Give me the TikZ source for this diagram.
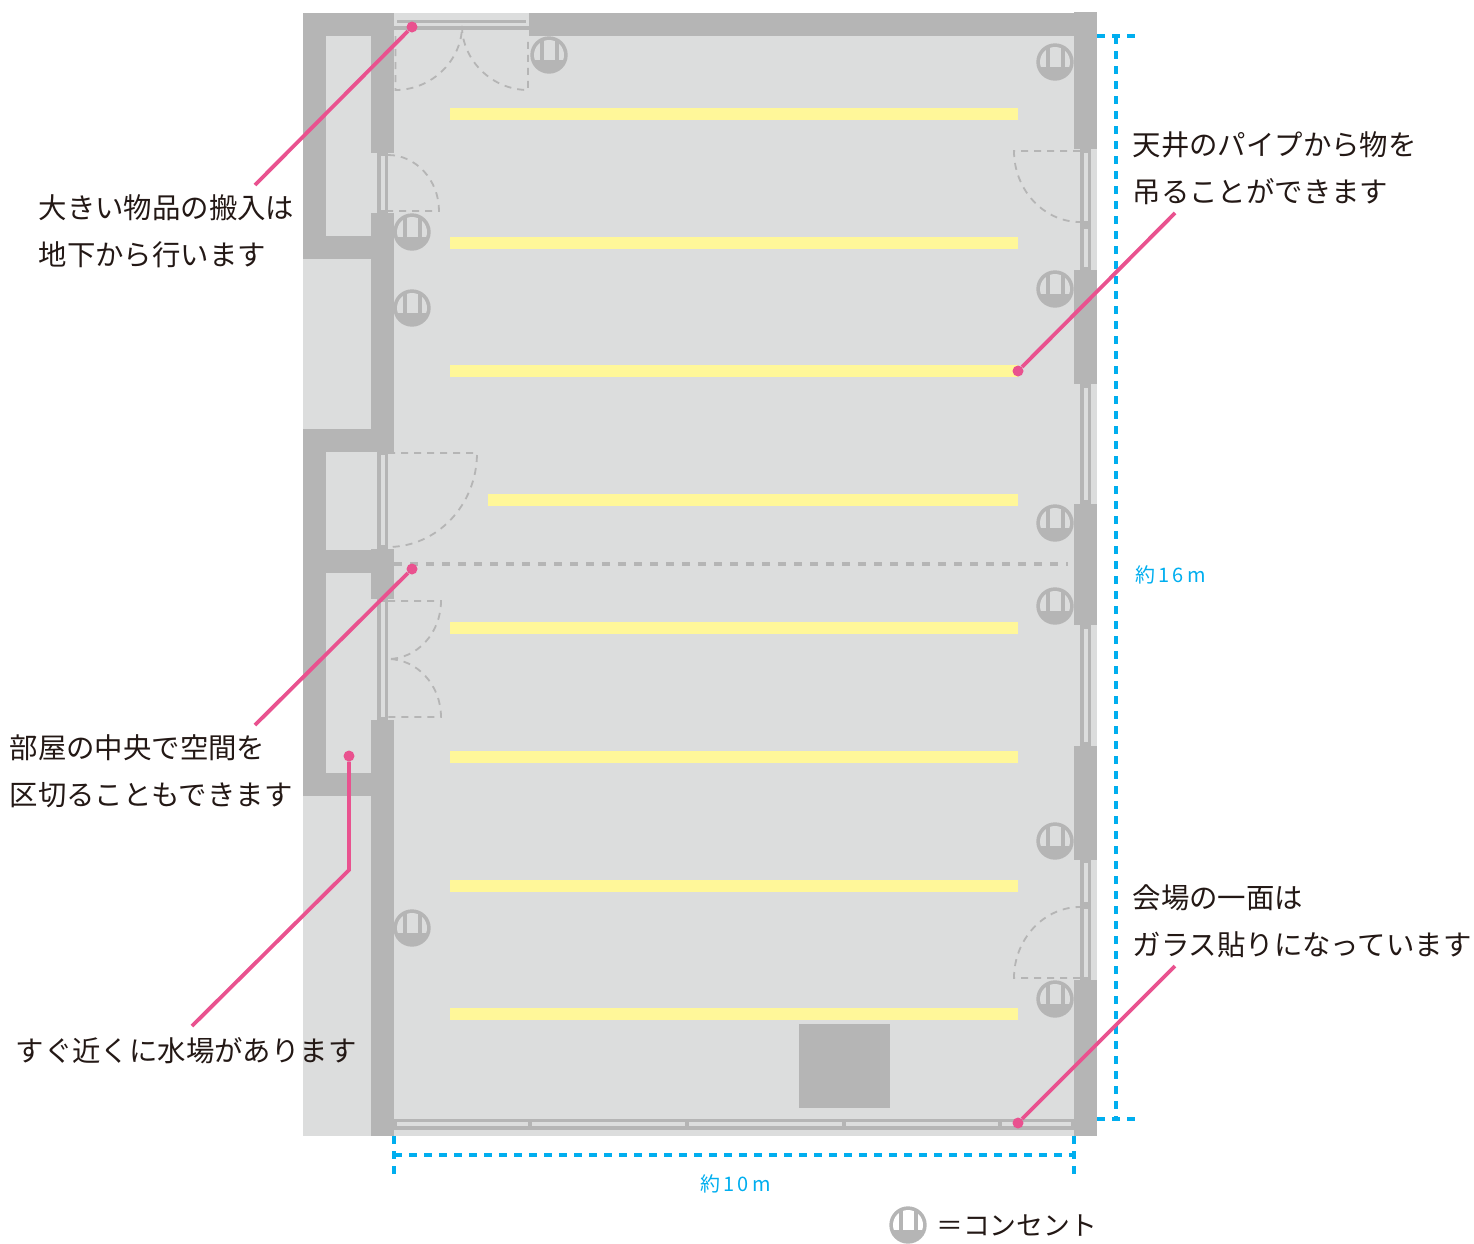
\documentclass[tikz,border=0pt]{standalone}
\usepackage{fontspec}
\newfontfamily\jpfont{Noto Sans CJK JP}
\usepackage{tikz}
\usetikzlibrary{positioning}
\definecolor{floorgray}{HTML}{DCDDDD}
\definecolor{wallgray}{HTML}{B5B5B5}
\definecolor{lightyellow}{HTML}{FFF799}
\definecolor{dimblue}{HTML}{00AEEF}
\definecolor{notepink}{HTML}{E9528F}
\definecolor{textblack}{HTML}{231815}
\tikzset{
  wall/.style={fill=wallgray},
  pane/.style={fill=floorgray},
  swing/.style={draw=wallgray, line width=1.8pt, dash pattern=on 7pt off 6pt},
  dimline/.style={draw=dimblue, line width=3.8pt, dash pattern=on 8pt off 7pt},
  noteline/.style={draw=notepink, line width=3.8pt},
  notedot/.style={circle, fill=notepink, inner sep=0pt, minimum size=11pt},
  note/.style={anchor=west, align=left, inner sep=0pt, text=textblack,
    font=\jpfont\fontsize{28.4}{47}\selectfont},
  dimtext/.style={inner sep=0pt, text=dimblue, font=\jpfont\fontsize{20}{24}\selectfont},
}
\begin{document}
\begin{tikzpicture}[x=1pt, y=-1pt]
    \useasboundingbox (0, 0) rectangle (1474, 1243);
    \fill [pane] (303, 13) rectangle (1097, 1136);

    % windows
    \fill [wall] (397, 19.5) rectangle (526, 22.5);
    \fill [wall] (394, 26) rectangle (529, 30);
    \fill [wall] (394, 1119) rectangle (1074, 1130);
    \foreach \xa/\xb in {397/528, 532/685, 689/842, 846/998, 1002/1071}
        \fill [pane] (\xa, 1122) rectangle (\xb, 1126);
    \foreach \ya/\yb in {153/213, 452/549, 599/720}
        \fill [wall] (377, \ya) rectangle (388, \yb);
    \foreach \ya/\yb in {156/210, 455/545, 602/717}
        \fill [pane] (380.5, \ya) rectangle (384.5, \yb);
    \foreach \ya/\yb in {149/270, 384/504, 625/746, 860/980}
        \fill [wall] (1080, \ya) rectangle (1091, \yb);
    \foreach \ya/\yb in {153/221, 229/267, 388/500, 629/742, 863/902, 909/977}
        \fill [pane] (1084, \ya) rectangle (1087.5, \yb);

    % walls
    \fill [wall] (303, 13) rectangle (394, 36);
    \fill [wall] (303, 13) rectangle (326, 259);
    \fill [wall] (303, 236) rectangle (371, 259);
    \fill [wall] (371, 13) rectangle (394, 153);
    \fill [wall] (371, 213) rectangle (394, 452);
    \fill [wall] (303, 429) rectangle (394, 452);
    \fill [wall] (303, 429) rectangle (326, 796);
    \fill [wall] (303, 550) rectangle (394, 573);
    \fill [wall] (371, 549) rectangle (394, 599);
    \fill [wall] (303, 773) rectangle (371, 796);
    \fill [wall] (371, 720) rectangle (394, 1136);
    \fill [wall] (529, 13) rectangle (1074, 36);
    \foreach \ya/\yb in {12/149, 270/384, 504/625, 746/860, 980/1136}
        \fill [wall] (1074, \ya) rectangle (1097, \yb);
    \fill [wall] (799, 1024) rectangle (890, 1108);

    % doors
    \draw [swing] (395.5, 36) -- (395.5, 90) .. controls (432, 90) and (462, 60) .. (462, 26)
        .. controls (462, 60) and (492, 90) .. (528, 90) -- (528, 36);
    \draw [swing] (388, 155) .. controls (416, 155) and (439, 180) .. (439, 211) -- (388, 211);
    \draw [swing] (388, 453) -- (477, 453) .. controls (477, 505) and (437, 547) .. (388, 547);
    \draw [swing] (388, 601) -- (441, 601) .. controls (441, 633) and (417, 659) .. (388, 659)
        .. controls (417, 659) and (441, 685) .. (441, 717) -- (388, 717);
    \draw [swing] (1080, 151) -- (1014, 151) .. controls (1014, 190) and (1044, 222) .. (1080, 222);
    \draw [swing] (1080, 978) -- (1014, 978) .. controls (1014, 939) and (1044, 907) .. (1080, 907);
    \draw [draw=wallgray, line width=4pt, dash pattern=on 8pt off 8pt] (394, 564) -- (1068, 564);

    % lights
    \foreach \y in {114, 243, 371, 628, 757, 886, 1014}
        \fill [lightyellow] (450, \y-6) rectangle (1018, \y+6);
    \fill [lightyellow] (488, 494) rectangle (1018, 506);

    % outlets
    \foreach \x/\y/\inner in {549/55/floorgray, 1055/62/floorgray, 412/232/floorgray,
        412/308/floorgray, 1055/289/floorgray, 1055/523/floorgray, 1055/606/floorgray,
        1055/841/floorgray, 412/928/floorgray, 1055/999/floorgray, 908/1225/white} {
        \begin{scope}[shift={(\x, \y)}]
            \fill [wall] (0, 0) circle (18.7pt);
            \begin{scope}
                \clip (0, 0) circle (15pt);
                \fill [\inner] (-16, -16) rectangle (16, 5);
            \end{scope}
            \fill [wall] (-9.5, -16) rectangle (-5.5, 6);
            \fill [wall] (5.5, -16) rectangle (9.5, 6);
        \end{scope}
    }

    % size lines
    \coordinate (topL) at (1097, 36);
    \coordinate (topR) at (1135, 36);
    \coordinate (botL) at (1097, 1119);
    \coordinate (botR) at (1135, 1119);
    \coordinate (upper) at (1116, 36);
    \coordinate (lower) at (1116, 1119);
    \coordinate (leftT) at (394, 1136);
    \coordinate (leftB) at (394, 1175);
    \coordinate (rightT) at (1074, 1136);
    \coordinate (rightB) at (1074, 1175);
    \coordinate (leftM) at (394, 1155);
    \coordinate (rightM) at (1074, 1155);
    \draw [dimline] (topL) -- (topR);
    \draw [dimline] (botL) -- (botR);
    \draw [dimline] (upper) -- (lower);
    \draw [dimline] (leftT) -- (leftB);
    \draw [dimline] (rightT) -- (rightB);
    \draw [dimline] (leftM) -- (rightM);
    \node [dimtext] (heightlabel) at (1170.5, 575) {約\,1\,6\,m};
    \node [dimtext] (widthlabel) at (735.5, 1184) {約\,1\,0\,m};

    % notes
    \node [note] (cargo) at (38.5, 231.5) {大きい物品の搬入は\\地下から行います};
    \node [note] (pipe) at (1132.5, 168.5) {天井のパイプから物を\\吊ることができます};
    \node [note] (divide) at (9.5, 771.5) {部屋の中央で空間を\\区切ることもできます};
    \node [note] (water) at (15.5, 1050.5) {すぐ近くに水場があります};
    \node [note] (glass) at (1132.5, 921.5) {会場の一面は\\ガラス貼りになっています};
    \node [anchor=west, inner sep=0pt, text=textblack, font=\jpfont\fontsize{26.8}{30}\selectfont]
        (legend) at (936, 1226) {＝コンセント};

    \node [notedot] (cargoP) at (412, 27) {};
    \node [notedot] (pipeP) at (1018, 371) {};
    \node [notedot] (divideP) at (412, 569) {};
    \node [notedot] (waterP) at (349, 756) {};
    \node [notedot] (glassP) at (1018, 1123) {};
    \coordinate (cargoE) at (255, 185);
    \coordinate (pipeE) at (1175, 213);
    \coordinate (divideE) at (255, 725);
    \coordinate (waterM) at (349, 870);
    \coordinate (waterE) at (192, 1026);
    \coordinate (glassE) at (1175, 966);
    \draw [noteline] (cargoP) -- (cargoE);
    \draw [noteline] (pipeP) -- (pipeE);
    \draw [noteline] (divideP) -- (divideE);
    \draw [noteline] (waterP) -- (waterM) -- (waterE);
    \draw [noteline] (glassP) -- (glassE);
\end{tikzpicture}
\end{document}
